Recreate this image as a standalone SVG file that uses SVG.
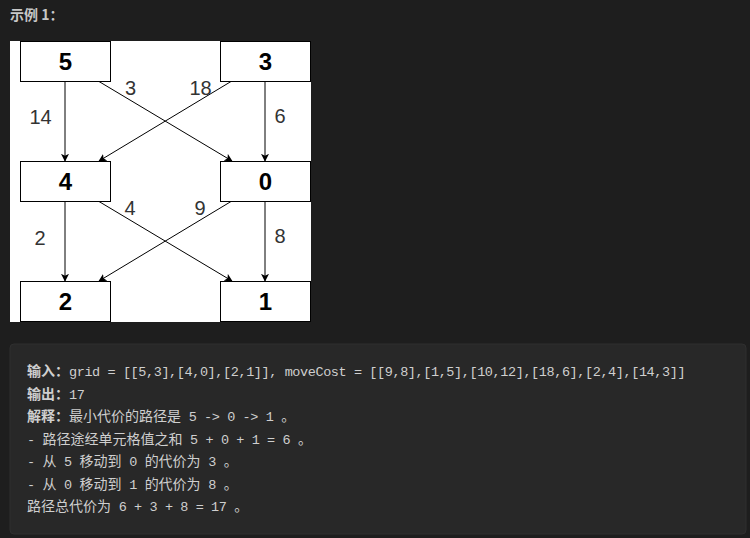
<svg xmlns="http://www.w3.org/2000/svg" width="750" height="538" viewBox="0 0 750 538">
<style>
.bg{fill:#1e1e1e}
.box{fill:#ffffff;stroke:#000000;stroke-width:1}
.nl{font-family:"Liberation Sans",Arial,sans-serif;font-size:24px;font-weight:bold;fill:#000;text-anchor:middle}
.el{font-family:"Liberation Sans",Arial,sans-serif;font-size:20px;fill:#333333;text-anchor:middle}
.edge{stroke:#000;stroke-width:1;fill:none;marker-end:url(#arr)}
.t{font-family:"Liberation Mono","Noto Sans CJK SC",monospace;font-size:13.5px;letter-spacing:-0.4px;fill:#cfcfcf}
.c{font-family:"Noto Sans CJK SC",sans-serif;font-size:14px;letter-spacing:0}
.b{font-weight:bold}
.title{font-family:"Noto Sans CJK SC","Liberation Sans",sans-serif;font-size:14px;font-weight:bold;fill:#c8c8c8}
</style>
<defs>
<marker id="arr" viewBox="0 0 10 10" refX="9" refY="5" markerWidth="8" markerHeight="8" markerUnits="userSpaceOnUse" orient="auto">
<path d="M0,0 L10,5 L0,10 L2.5,5 Z" fill="#000"/>
</marker>
</defs>
<rect class="bg" x="0" y="0" width="750" height="538"/>
<text class="title" x="10" y="20">示例 1：</text>
<rect x="10" y="41" width="301" height="281" fill="#ffffff"/>
<g id="connectors">
<line class="edge" x1="65" y1="81.5" x2="65" y2="161"/>
<line class="edge" x1="99" y1="81.5" x2="232" y2="161"/>
<line class="edge" x1="231" y1="81.5" x2="99" y2="161"/>
<line class="edge" x1="265" y1="81.5" x2="265" y2="161"/>
<line class="edge" x1="65" y1="201.5" x2="65" y2="281"/>
<line class="edge" x1="99" y1="201.5" x2="232" y2="281"/>
<line class="edge" x1="231" y1="201.5" x2="99" y2="281"/>
<line class="edge" x1="265" y1="201.5" x2="265" y2="281"/>
<text class="el" x="40.5" y="124">14</text>
<text class="el" x="130.5" y="95">3</text>
<text class="el" x="200.5" y="95">18</text>
<text class="el" x="280" y="122.5">6</text>
<text class="el" x="130" y="215">4</text>
<text class="el" x="200" y="215">9</text>
<text class="el" x="40" y="245">2</text>
<text class="el" x="280" y="243">8</text>
</g>
<g id="n5"><rect class="box" x="20.5" y="41.5" width="90" height="40"/><text class="nl" x="65.5" y="69.5">5</text></g>
<g id="n3"><rect class="box" x="220.5" y="41.5" width="90" height="40"/><text class="nl" x="265.5" y="69.5">3</text></g>
<g id="n4"><rect class="box" x="20.5" y="161.5" width="90" height="40"/><text class="nl" x="65.5" y="189.5">4</text></g>
<g id="n0"><rect class="box" x="220.5" y="161.5" width="90" height="40"/><text class="nl" x="265.5" y="189.5">0</text></g>
<g id="n2"><rect class="box" x="20.5" y="281.5" width="90" height="40"/><text class="nl" x="65.5" y="309.5">2</text></g>
<g id="n1"><rect class="box" x="220.5" y="281.5" width="90" height="40"/><text class="nl" x="265.5" y="309.5">1</text></g>
<g id="panel">
<rect x="10" y="344" width="736" height="190" rx="4" fill="#282828" stroke="#2f2f2f" stroke-width="1"/>
<text class="t" x="27" y="376" xml:space="preserve"><tspan class="c b">输入：</tspan>grid = [[5,3],[4,0],[2,1]], moveCost = [[9,8],[1,5],[10,12],[18,6],[2,4],[14,3]]</text>
<text class="t" x="27" y="398.5" xml:space="preserve"><tspan class="c b">输出：</tspan>17</text>
<text class="t" x="27" y="421" xml:space="preserve"><tspan class="c b">解释：</tspan><tspan class="c">最小代价的路径是</tspan> 5 -&gt; 0 -&gt; 1 <tspan class="c">。</tspan></text>
<text class="t" x="27" y="443.5" xml:space="preserve">- <tspan class="c">路径途经单元格值之和</tspan> 5 + 0 + 1 = 6 <tspan class="c">。</tspan></text>
<text class="t" x="27" y="466" xml:space="preserve">- <tspan class="c">从</tspan> 5 <tspan class="c">移动到</tspan> 0 <tspan class="c">的代价为</tspan> 3 <tspan class="c">。</tspan></text>
<text class="t" x="27" y="488.5" xml:space="preserve">- <tspan class="c">从</tspan> 0 <tspan class="c">移动到</tspan> 1 <tspan class="c">的代价为</tspan> 8 <tspan class="c">。</tspan></text>
<text class="t" x="27" y="511" xml:space="preserve"><tspan class="c">路径总代价为</tspan> 6 + 3 + 8 = 17 <tspan class="c">。</tspan></text>
</g>
</svg>
